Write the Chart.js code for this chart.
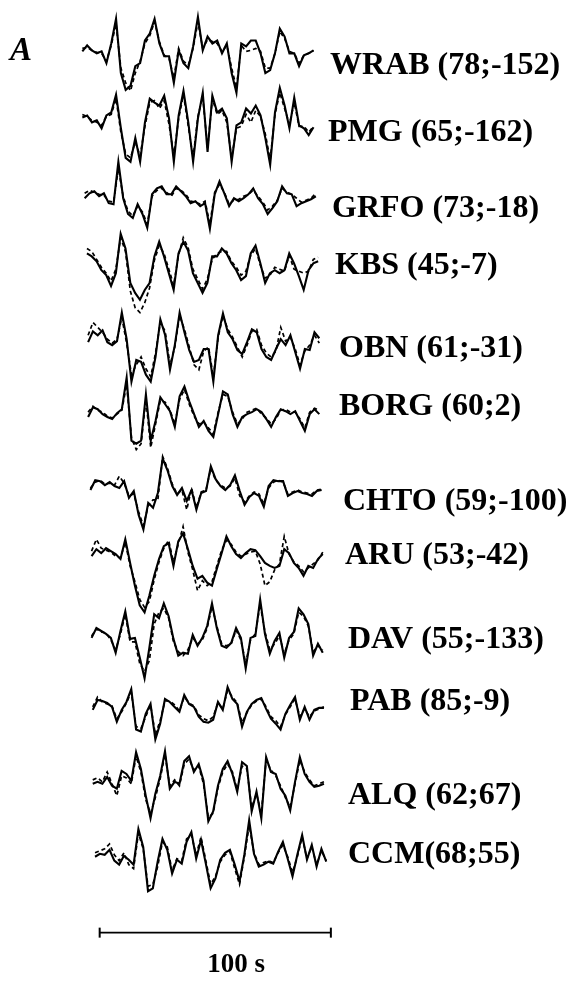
<!DOCTYPE html>
<html>
<head>
<meta charset="utf-8">
<script src="https://cdn.jsdelivr.net/npm/chart.js@4.4.1/dist/chart.umd.min.js"></script>
<style>
    html, body { margin: 0; padding: 0; background: #fff; }
    #wrap { position: relative; width: 571px; height: 984px; }
</style>
</head>
<body>
<div id="wrap"><canvas id="seisChart" width="571" height="984"></canvas></div>
<script>
    // station names with (distance;azimuth)
    const stations = ['WRAB (78;-152)', 'PMG (65;-162)', 'GRFO (73;-18)', 'KBS (45;-7)',
        'OBN (61;-31)', 'BORG (60;2)', 'CHTO (59;-100)', 'ARU (53;-42)',
        'DAV (55;-133)', 'PAB (85;-9)', 'ALQ (62;67)', 'CCM(68;55)'];

    // observed (solid) and synthetic (dashed) traces, 49 samples over 100 s
    const wrabObs = [2,8,3,0,2,-10,10,35,-20,-37,-33,-13,-10,13,20,35,10,-3,-3,-30,3,-10,-15,7,37,3,17,10,13,0,10,-20,-40,10,7,13,13,0,-20,-17,0,25,17,0,0,-13,-2,0,3];
    const wrabSyn = [5,6,3,1,0,-8,8,30,-15,-30,-38,-20,-8,10,18,32,12,-2,-5,-25,5,-8,-12,5,32,5,14,12,10,2,8,-15,-35,8,2,3,5,2,-15,-15,0,22,15,2,0,-10,-2,0,3];
    const pmgObs = [3,5,-2,0,-8,5,8,26,-8,-38,-42,-18,-42,-2,22,18,15,25,2,-42,5,30,-2,-42,2,28,-32,25,8,12,2,-42,-5,-2,12,7,15,5,-18,-45,8,33,15,-8,23,-5,-8,-15,-7];
    const pmgSyn = [6,4,0,-2,-5,4,6,22,-12,-34,-38,-22,-36,-6,18,20,12,20,-4,-36,2,26,-6,-38,4,24,-28,22,6,10,-2,-38,-8,-6,6,-2,10,4,-14,-40,6,28,12,-4,18,-6,-6,-12,-6];
    const grfoObs = [-2,3,5,0,3,-7,-8,35,-2,-18,-22,-8,-18,-32,2,8,10,2,2,10,5,0,-7,-5,-10,-7,-33,2,15,3,-10,-2,-5,-2,2,8,-2,-8,-18,-12,-5,10,3,2,-10,-7,-5,-3,0];
    const grfoSyn = [3,6,4,2,1,-5,-6,28,0,-15,-20,-10,-16,-28,0,6,8,4,0,8,6,2,-5,-6,-8,-5,-28,4,12,4,-8,-4,-3,0,2,6,0,-6,-14,-10,-4,8,4,2,-2,-6,-4,-2,3];
    const kbsObs = [10,7,2,-7,-12,-23,-10,30,15,-20,-30,-37,-27,-20,7,22,7,-10,-27,10,22,13,-10,-20,-30,-20,7,7,15,10,0,-7,-17,-13,10,18,0,-20,-10,-7,-10,-7,10,0,-13,-27,-7,0,2];
    const kbsSyn = [15,12,4,-4,-10,-18,-6,26,12,-28,-45,-50,-40,-25,3,18,10,-6,-22,8,26,16,-6,-16,-26,-16,4,10,12,12,2,-4,-12,-8,8,15,-2,-15,-12,-4,-6,-8,8,-6,-8,-10,-8,4,6];
    const obnObs = [-5,6,2,7,-5,-8,-4,25,-2,-45,-23,-25,-38,-45,-20,18,2,-33,-8,25,5,-13,-25,-23,-12,-12,-45,2,24,5,-2,-13,-17,-5,8,5,-12,-20,-23,-12,-2,-8,2,-15,-32,-12,-13,5,-1];
    const obnSyn = [2,15,10,5,-2,-6,-2,20,-6,-38,-28,-20,-32,-40,-16,15,6,-28,-10,22,8,-10,-28,-33,-14,-10,-40,0,22,8,0,-10,-20,-8,6,8,-8,-16,-20,-14,10,-4,0,-12,-28,-14,-8,2,-6];
    const borgObs = [-3,7,5,0,-3,-5,1,5,37,-27,-30,-27,20,-27,-7,17,10,3,-13,18,28,13,0,-13,-7,-17,-23,0,23,20,0,-13,-3,0,2,5,2,-5,-13,-3,5,3,0,3,-7,-17,0,5,0];
    const borgSyn = [2,8,4,2,-2,-4,0,4,30,-24,-36,-30,15,-34,-10,14,12,4,-10,15,25,10,-2,-10,-8,-14,-20,2,20,18,2,-10,-5,2,4,6,0,-4,-10,-5,4,5,2,2,-5,-14,2,6,4];
    const chtoObs = [-2,8,7,3,6,2,0,7,-10,-3,-27,-42,-15,-20,-5,30,18,2,-7,0,-13,-2,-22,-5,-3,22,9,2,-2,3,13,-3,-17,-9,-5,-8,-19,2,8,7,7,-8,-5,-3,-5,-6,-8,-3,-2];
    const chtoSyn = [0,6,8,4,5,3,12,5,-8,-6,-24,-38,-18,-12,-12,32,20,4,-6,-2,-22,0,-20,-4,-2,20,8,3,0,2,10,-8,-14,-8,-4,-6,-16,0,6,8,6,-6,-4,-2,-4,-5,-6,-2,-1];
    const aruObs = [0,7,3,8,5,2,-3,17,-7,-30,-50,-57,-40,-20,-3,10,13,-10,15,23,7,-10,-23,-20,-27,-30,-13,3,20,10,2,-2,3,7,6,0,-7,-10,-12,-10,7,3,-7,-12,-20,-10,-12,-3,2];
    const aruSyn = [5,17,8,6,4,0,-2,14,-10,-26,-44,-52,-46,-24,-6,8,16,-6,12,30,4,-14,-35,-25,-30,-26,-10,6,16,12,4,0,2,4,5,-8,-30,-26,-14,-8,20,2,-6,-10,-16,-12,-8,-4,4];
    const davObs = [-2,8,5,2,-2,-17,5,25,-3,-2,-22,-43,-12,22,18,33,20,-3,-20,-17,-18,1,-10,-2,10,33,8,-10,-12,-7,8,-2,-33,-2,0,37,2,-18,-5,3,-22,-2,4,28,22,12,-20,-8,-17];
    const davSyn = [0,7,4,3,-4,-14,2,22,-6,-6,-28,-36,-25,12,24,28,18,-6,-16,-20,-14,-2,-8,-4,8,30,10,-8,-10,-8,6,-4,-28,-4,2,32,4,-14,-8,0,-18,-4,2,24,20,10,-16,-10,-14];
    const pabObs = [-3,7,6,4,0,-15,-3,5,18,-23,-25,-7,3,-33,-17,8,5,0,-5,12,3,0,-10,-15,-16,-13,5,-3,20,8,3,-20,-5,3,7,9,-2,-12,-17,-23,-7,2,10,-13,0,-13,-3,-1,-1];
    const pabSyn = [0,10,5,3,1,-12,-5,4,15,-20,-22,-10,2,-28,-14,6,6,2,-4,10,4,1,-8,-12,-14,-10,4,-2,17,10,4,-16,-6,2,6,8,0,-10,-14,-20,-8,0,8,-10,-2,-10,-4,-2,0];
    const alqObs = [0,2,0,7,-2,-5,13,10,3,32,15,-12,-35,-10,8,33,-5,2,0,23,28,12,20,3,-38,-28,-2,15,23,10,-8,22,18,-28,-8,-35,27,12,10,-5,-12,-27,2,27,10,2,-3,-2,0];
    const alqSyn = [4,6,2,12,0,-12,8,6,0,28,12,-16,-30,-14,5,30,-2,4,-2,20,25,14,18,0,-34,-30,-4,12,20,12,-6,18,15,-24,-10,-30,24,14,8,-2,-14,-24,0,24,12,4,-2,0,2];
    const ccmObs = [0,3,2,7,-4,-8,1,-3,-8,28,10,-35,-32,-5,18,7,-17,-3,-7,15,25,-2,17,-7,-32,-22,-3,4,7,-8,-25,2,37,3,-10,-8,-5,-7,5,15,-2,-20,2,22,-3,12,-10,8,-5];
    const ccmSyn = [4,6,8,13,2,-4,4,-8,-12,24,8,-30,-28,-10,15,10,-14,-2,-4,18,22,2,20,-4,-28,-20,-5,2,5,-12,-28,0,32,4,-8,-6,-4,-6,4,12,0,-16,0,20,-2,10,-8,6,-4];

    const observed = [wrabObs, pmgObs, grfoObs, kbsObs, obnObs, borgObs, chtoObs, aruObs, davObs, pabObs, alqObs, ccmObs];
    const synthetic = [wrabSyn, pmgSyn, grfoSyn, kbsSyn, obnSyn, borgSyn, chtoSyn, aruSyn, davSyn, pabSyn, alqSyn, ccmSyn];

    // layout: trace baselines (y, page px), start time of each trace (s), label anchors
    const traceBase = [47, 115, 192, 260, 335, 413, 488, 557, 638, 710, 788, 862];
    const traceStart = [-7.5, -7.5, -6.5, -5.5, -5, -5, -4, -3.5, -3.5, -3, -3, -2];
    const labelX = [330, 328, 332, 335, 339, 339, 343, 345, 348, 350, 348, 348];
    const labelY = [60, 128, 205, 262, 347, 405, 502, 557, 642, 705, 800, 860];
    const traceLength = 100; // seconds
    const barY = 939;

    const datasets = [];
    observed.forEach((obs, i) => {
        const step = traceLength / (obs.length - 1);
        datasets.push({
            label: stations[i] + ' synthetic',
            data: synthetic[i].map((v, k) => ({ x: traceStart[i] + k * step, y: traceBase[i] - v })),
            borderColor: '#000',
            borderWidth: 1.7,
            borderDash: [4, 3]
        });
        datasets.push({
            label: stations[i] + ' observed',
            data: obs.map((v, k) => ({ x: traceStart[i] + k * step, y: traceBase[i] - v })),
            borderColor: '#000',
            borderWidth: 2.1
        });
    });
    // 100 s scale bar
    datasets.push({
        label: 'scale',
        data: [{ x: 0, y: barY }, { x: traceLength, y: barY }],
        borderColor: '#000',
        borderWidth: 1.6,
        pointRadius: 5,
        pointStyle: 'line',
        rotation: 90,
        pointBorderWidth: 2,
        pointBorderColor: '#000'
    });

    const textPlugin = {
        id: 'stationText',
        afterDatasetsDraw(chart) {
            const c = chart.ctx;
            const y = chart.scales.y;
            const x = chart.scales.x;
            c.save();
            c.fillStyle = '#000';
            c.textBaseline = 'middle';
            c.font = 'bold 32px "Liberation Serif", "Times New Roman", serif';
            stations.forEach((s, i) => c.fillText(s, labelX[i], y.getPixelForValue(labelY[i])));
            c.font = 'italic bold 33px "Liberation Serif", "Times New Roman", serif';
            c.fillText('A', 10, y.getPixelForValue(45));
            c.font = 'bold 27px "Liberation Serif", "Times New Roman", serif';
            c.textAlign = 'center';
            c.fillText('100 s', x.getPixelForValue(59), y.getPixelForValue(972));
            c.restore();
        }
    };

    const ctx = document.getElementById('seisChart').getContext('2d');
    const pxPerSec = 2.37;
    const seisChart = new Chart(ctx, {
        type: 'line',
        data: { datasets: datasets },
        options: {
            responsive: false,
            animation: false,
            layout: { padding: 0 },
            elements: { line: { tension: 0 }, point: { radius: 0 } },
            plugins: { legend: { display: false }, tooltip: { enabled: false } },
            scales: {
                x: { type: 'linear', min: -95 / pxPerSec, max: (571 - 95) / pxPerSec, display: false },
                y: { type: 'linear', min: 0, max: 984, reverse: true, display: false }
            }
        },
        plugins: [textPlugin]
    });
</script>
</body>
</html>
